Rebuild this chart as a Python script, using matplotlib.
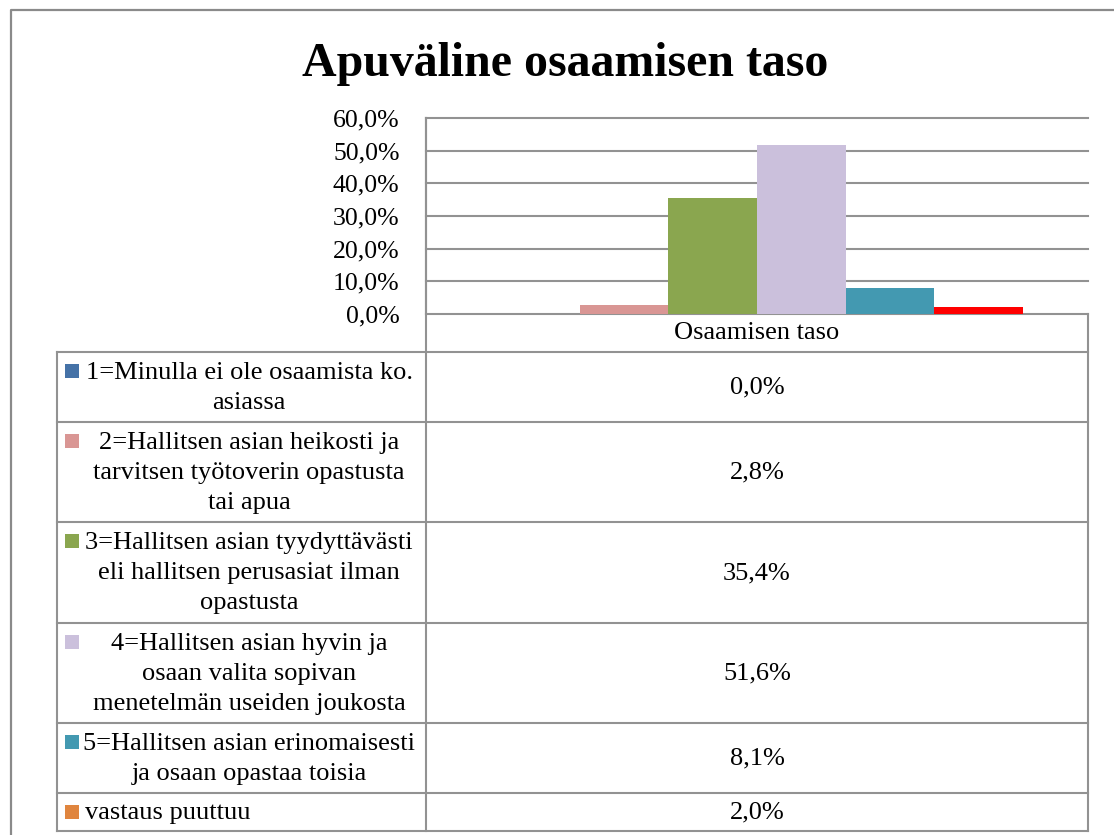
import matplotlib.pyplot as plt
import numpy as np
from matplotlib.ticker import FuncFormatter

plt.rcParams["font.family"] = ["Liberation Serif", "DejaVu Serif"]

title = "Apuväline osaamisen taso"
category = "Osaamisen taso"
series_labels = [
    "1=Minulla ei ole osaamista ko.\nasiassa",
    "2=Hallitsen asian heikosti ja\ntarvitsen työtoverin opastusta\ntai apua",
    "3=Hallitsen asian tyydyttävästi\neli hallitsen perusasiat ilman\nopastusta",
    "4=Hallitsen asian hyvin ja\nosaan valita sopivan\nmenetelmän useiden joukosta",
    "5=Hallitsen asian erinomaisesti\nja osaan opastaa toisia",
    "vastaus puuttuu",
]
values = [0.0, 2.8, 35.4, 51.6, 8.1, 2.0]
bar_colors = ["#4F81BD", "#D99694", "#8AA64F", "#CBC0DC", "#4399B1", "#FF0000"]
key_colors = ["#4572A7", "#D99694", "#8AA64F", "#CBC0DC", "#4399B1", "#E0853E"]
yticks = [0, 10, 20, 30, 40, 50, 60]

W, H = 1114, 835
GRID = "#929292"
FS = 18.5
TFS = 19

fig = plt.figure(figsize=(W / 100, H / 100), dpi=100)

# overlay in pixel coords for frame + data table
ov = fig.add_axes([0, 0, 1, 1])
ov.set_xlim(0, W)
ov.set_ylim(H, 0)
ov.axis("off")

# chart border (runs off the bottom/right of the picture)
ov.plot([11, 11, W + 5], [H + 5, 10, 10], color="#8a8a8a", lw=1.6)

# plot area
left, right, top, bottom = 426, 1088, 118, 314
ax = fig.add_axes([left / W, 1 - bottom / H, (right - left) / W, (bottom - top) / H])
ax.set_zorder(2)
ax.patch.set_alpha(0)

n = len(values)
w = 0.1338
offsets = (np.arange(n) - (n - 1) / 2) * w
ax.bar(offsets, values, width=w, color=bar_colors, zorder=3)
ax.set_xlim(-0.5, 0.5)
ax.set_ylim(0, 60)
ax.set_yticks(yticks)
ax.yaxis.set_major_formatter(FuncFormatter(lambda v, p: f"{v:.1f}%".replace(".", ",")))
ax.tick_params(axis="y", length=0, pad=19, labelsize=FS)
ax.set_xticks([])
ax.grid(axis="y", color=GRID, lw=1.5, zorder=1)
for line in ax.get_ygridlines():
    line.set_clip_on(False)
for s in ["top", "right", "bottom"]:
    ax.spines[s].set_visible(False)
ax.spines["left"].set_color(GRID)
ax.spines["left"].set_linewidth(1.5)

fig.text(565 / W, 1 - 64 / H, title, ha="center", va="center",
         fontsize=34.5, fontweight="bold")

# data table
tl, tr = 57, right
header_h = 38
row_h = [7.5 + 31 * (lab.count("\n") + 1) for lab in series_labels]
edges = [bottom + header_h]
for h in row_h:
    edges.append(edges[-1] + h)

ov.plot([left, left], [top, edges[-1]], color=GRID, lw=1.5)
ov.plot([tr, tr], [bottom, edges[-1]], color=GRID, lw=1.5)
ov.plot([tl, tl], [edges[0], edges[-1]], color=GRID, lw=1.5)
for y in edges:
    ov.plot([tl, tr], [y, y], color=GRID, lw=1.5)

cx = (left + tr) / 2
ov.text(cx, bottom + header_h / 2, category, ha="center", va="center", fontsize=TFS)

for i, (lab, val) in enumerate(zip(series_labels, values)):
    y0, y1 = edges[i], edges[i + 1]
    ym = (y0 + y1) / 2 + 1
    ov.add_patch(plt.Rectangle((65, y0 + 12), 14, 14, color=key_colors[i], lw=0))
    if "\n" in lab:
        ov.text(249, ym, lab, ha="center", va="center", fontsize=TFS,
                multialignment="center", linespacing=1.47)
    else:
        ov.text(85, ym, lab, ha="left", va="center", fontsize=TFS)
    ov.text(cx, ym, f"{val:.1f}%".replace(".", ","), ha="center",
            va="center", fontsize=TFS)

fig.savefig("out.png", dpi=100)
